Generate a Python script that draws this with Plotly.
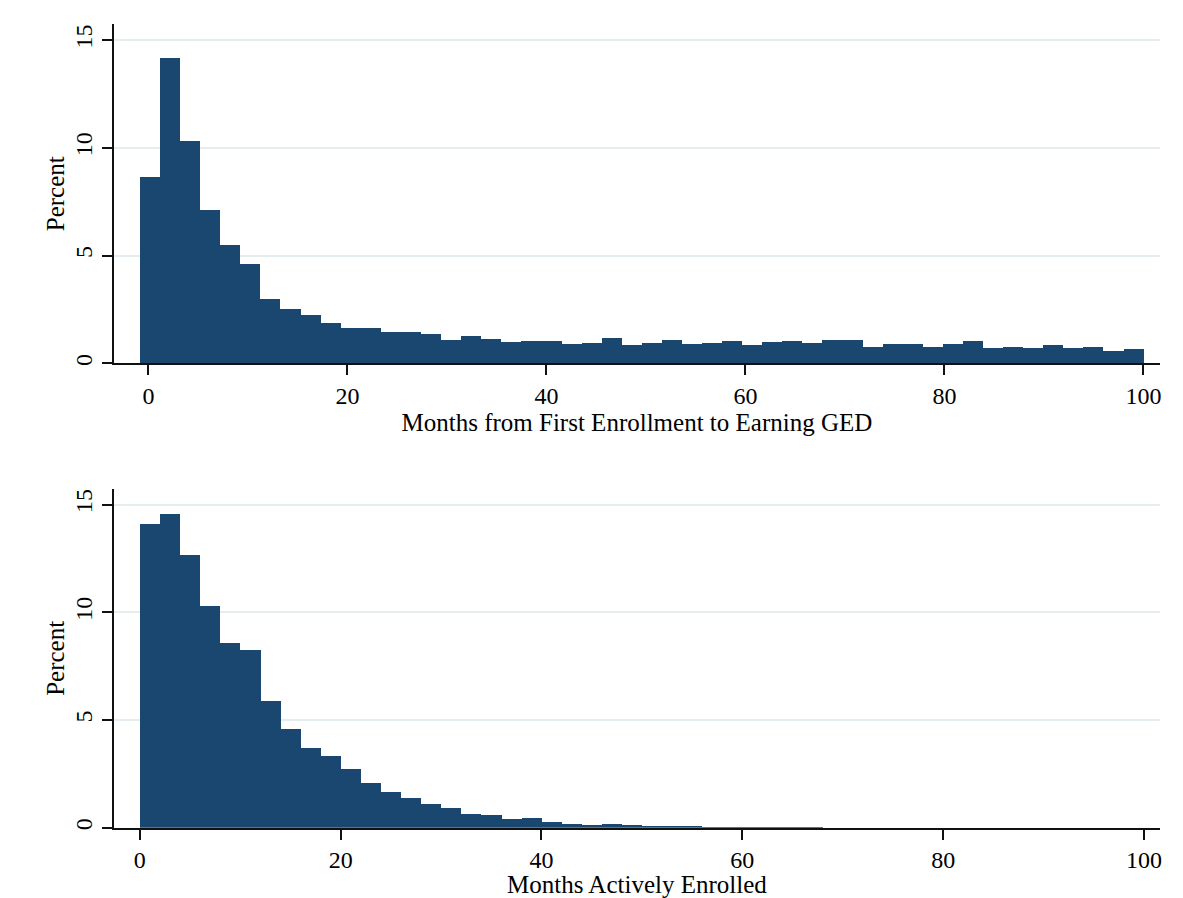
import plotly.graph_objects as go

# ---- data (percent per bin) ----
ged_percent = [
    8.67, 14.18, 10.34, 7.10, 5.48, 4.60, 2.98, 2.52, 2.25, 1.87,
    1.64, 1.64, 1.45, 1.45, 1.37, 1.08, 1.27, 1.13, 0.99, 1.03,
    1.03, 0.90, 0.94, 1.17, 0.85, 0.94, 1.08, 0.90, 0.94, 1.03,
    0.85, 0.99, 1.03, 0.94, 1.08, 1.08, 0.76, 0.90, 0.90, 0.76,
    0.90, 1.03, 0.71, 0.76, 0.71, 0.85, 0.71, 0.76, 0.57, 0.66,
]
active_percent = [
    14.09, 14.57, 12.67, 10.31, 8.60, 8.27, 5.91, 4.61, 3.69, 3.32,
    2.72, 2.07, 1.65, 1.37, 1.10, 0.91, 0.63, 0.58, 0.40, 0.45,
    0.26, 0.17, 0.12, 0.17, 0.12, 0.08, 0.08, 0.08, 0.03, 0.03,
    0.03, 0.01, 0.03, 0.01, 0.0, 0.0, 0.0, 0.0, 0.0, 0.0,
    0.0, 0.0, 0.0, 0.0, 0.0, 0.0, 0.0, 0.0, 0.0, 0.0,
]
ged_bin_start = -0.87
ged_bin_width = 2.0174
active_bin_start = 0.0
active_bin_width = 2.0

x_ticks = [0, 20, 40, 60, 80, 100]
y_ticks = [0, 5, 10, 15]

ged_title = "Months from First Enrollment to Earning GED"
active_title = "Months Actively Enrolled"
y_title = "Percent"

# ---- styling ----
BAR = "#1a476f"
GRID = "#e6edf1"
AXIS = "#111111"
FONT = "Liberation Serif"


def centers(start, width, n):
    return [start + width * (i + 0.5) for i in range(n)]


fig = go.Figure()
fig.add_trace(go.Bar(
    x=centers(ged_bin_start, ged_bin_width, len(ged_percent)), y=ged_percent,
    width=ged_bin_width, marker=dict(color=BAR, line=dict(width=0)),
    xaxis="x", yaxis="y", showlegend=False,
))
fig.add_trace(go.Bar(
    x=centers(active_bin_start, active_bin_width, len(active_percent)), y=active_percent,
    width=active_bin_width, marker=dict(color=BAR, line=dict(width=0)),
    xaxis="x2", yaxis="y2", showlegend=False,
))

W, H = 1183, 898
xdom = [114 / W, 1162 / W]

common_x = dict(
    tickmode="array", tickvals=x_ticks, ticks="outside", ticklen=10, tickwidth=1.5,
    tickcolor=AXIS, showline=True, linecolor=AXIS, linewidth=1.5, showgrid=False,
    zeroline=False, tickfont=dict(family=FONT, size=24, color="black"),
)
common_y = dict(
    tickmode="array", tickvals=y_ticks, ticks="outside", ticklen=10, tickwidth=1.5,
    tickcolor=AXIS, showline=True, linecolor=AXIS, linewidth=1.5, showgrid=True,
    gridcolor=GRID, gridwidth=2, zeroline=False, tickangle=-90,
    tickfont=dict(family=FONT, size=24, color="black"),
)

fig.update_layout(
    width=W, height=H,
    margin=dict(l=0, r=0, t=0, b=0),
    paper_bgcolor="white", plot_bgcolor="white",
    bargap=0,
    font=dict(family=FONT, color="black"),
    xaxis=dict(common_x, domain=xdom, range=[-3.48, 101.67], anchor="y",
               title=dict(text=ged_title, font=dict(family=FONT, size=25), standoff=2)),
    yaxis=dict(common_y, domain=[(H - 364.3) / H, (H - 24) / H], range=[0, 15.75], anchor="x",
               title=dict(text=y_title, font=dict(family=FONT, size=25), standoff=0)),
    xaxis2=dict(common_x, domain=xdom, range=[-2.59, 101.6], anchor="y2",
                title=dict(text=active_title, font=dict(family=FONT, size=25), standoff=2)),
    yaxis2=dict(common_y, domain=[(H - 829.7) / H, (H - 490) / H], range=[0, 15.73], anchor="x2",
                title=dict(text=y_title, font=dict(family=FONT, size=25), standoff=0)),
)

fig.write_html("out.html")
